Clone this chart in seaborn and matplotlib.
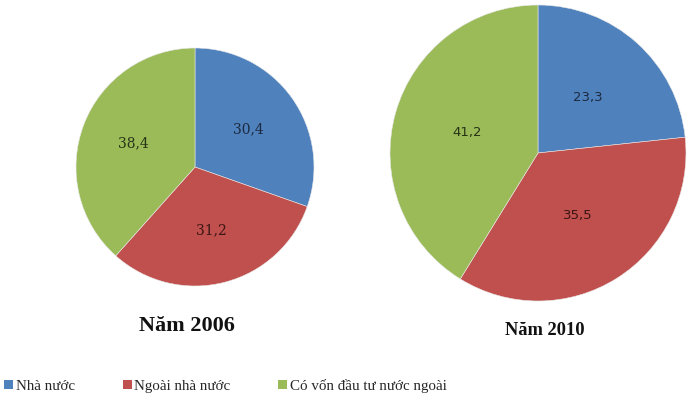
import matplotlib
matplotlib.use("Agg")
import matplotlib.pyplot as plt
from matplotlib.patches import Patch
import seaborn as sns

# data
categories = ["Nhà nước", "Ngoài nhà nước", "Có vốn đầu tư nước ngoài"]
values_2006 = [30.4, 31.2, 38.4]
values_2010 = [23.3, 35.5, 41.2]
titles = ["Năm 2006", "Năm 2010"]

colors = ["#4F81BD", "#C0504D", "#9BBB59"]
text_colors = ["#1B2A40", "#3A1514", "#263315"]

sns.set_theme(style="white")
plt.rcParams["font.family"] = ["DejaVu Sans"]

W, H = 697, 411
fig = plt.figure(figsize=(W / 100, H / 100), dpi=100)


def fmt(v):
    return f"{v:.1f}".replace(".", ",")


def draw_pie(values, cx, cy, r, pctdist, font, fsize, title, tx, ty, tsize):
    ax = fig.add_axes([(cx - r) / W, (H - cy - r) / H, 2 * r / W, 2 * r / H])
    wedges, texts = ax.pie(values, colors=colors, startangle=90, counterclock=False,
                           labels=[fmt(v) for v in values], labeldistance=pctdist,
                           wedgeprops=dict(linewidth=0.4, edgecolor="#e8e8e8"))
    for t, c in zip(texts, text_colors):
        t.set_ha("center")
        t.set_va("center")
        t.set_color(c)
        t.set_fontsize(fsize)
        t.set_family(font)
    ax.set_xlim(-1, 1)
    ax.set_ylim(-1, 1)
    ax.set_aspect("equal")
    fig.text(tx / W, 1 - ty / H, title, ha="center", va="center",
             fontsize=tsize, fontweight="bold", family="Liberation Serif", color="#111111")


draw_pie(values_2006, 195, 167, 119, 0.55, "DejaVu Serif", 10, titles[0], 187, 326, 16)
draw_pie(values_2010, 538, 153, 148, 0.5, "DejaVu Sans", 9.5, titles[1], 545, 330, 13.3)

handles = [Patch(facecolor=c, edgecolor="none") for c in colors]
fig.legend(handles, categories, loc="center left", bbox_to_anchor=(-0.013, 1 - 386 / H),
           ncol=3, frameon=False, handlelength=0.6, handleheight=0.6, handletextpad=0.15,
           columnspacing=3.2, prop=dict(family="Liberation Serif", size=10.8))

fig.savefig("out.png", dpi=100)
